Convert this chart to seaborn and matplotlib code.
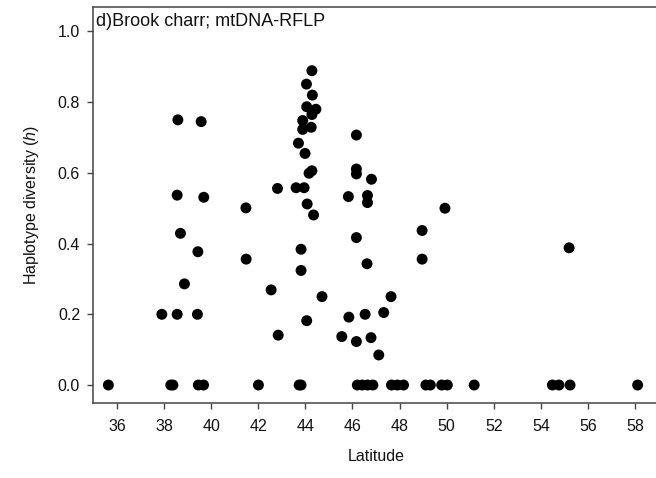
import numpy as np
import pandas as pd
import matplotlib
matplotlib.use("Agg")
import matplotlib.pyplot as plt
import seaborn as sns

# Data
latitude = [
    37.91, 38.56, 39.42, 38.59, 39.58, 38.56, 39.69, 38.70, 39.44, 38.87,
    41.48, 41.49, 42.82, 42.55, 42.85, 43.61, 43.95, 44.08, 44.35, 43.82,
    43.82, 44.71, 44.06, 44.28, 44.16, 43.71, 43.99, 44.28, 44.05, 44.30,
    44.06, 44.45, 44.28, 43.89, 43.89, 44.25,
    46.17, 46.17, 46.17, 46.81, 45.83, 46.64, 46.64, 46.17, 46.62, 47.64,
    45.85, 46.54, 47.33, 45.55, 46.17, 46.79, 47.12, 48.96, 48.96, 49.93,
    55.20,
    # zero-diversity populations
    35.64, 38.29, 38.38, 39.46, 39.68, 42.01, 43.74, 43.82, 46.21, 46.42,
    46.64, 46.87, 47.66, 47.91, 48.17, 49.12, 49.31, 49.79, 50.03, 51.17,
    54.49, 54.77, 55.24, 58.11,
]
diversity = [
    0.200, 0.200, 0.200, 0.750, 0.745, 0.537, 0.531, 0.429, 0.377, 0.286,
    0.501, 0.356, 0.556, 0.269, 0.141, 0.558, 0.558, 0.512, 0.481, 0.384,
    0.324, 0.250, 0.182, 0.606, 0.599, 0.684, 0.655, 0.889, 0.851, 0.820,
    0.787, 0.780, 0.765, 0.748, 0.723, 0.729,
    0.707, 0.611, 0.597, 0.582, 0.533, 0.536, 0.516, 0.417, 0.343, 0.250,
    0.192, 0.200, 0.205, 0.137, 0.123, 0.134, 0.085, 0.437, 0.356, 0.500,
    0.388,
    0.0, 0.0, 0.0, 0.0, 0.0, 0.0, 0.0, 0.0, 0.0, 0.0,
    0.0, 0.0, 0.0, 0.0, 0.0, 0.0, 0.0, 0.0, 0.0, 0.0,
    0.0, 0.0, 0.0, 0.0,
]
x_ticks = [36, 38, 40, 42, 44, 46, 48, 50, 52, 54, 56, 58]
y_ticks = [0.0, 0.2, 0.4, 0.6, 0.8, 1.0]
title_text = "d)Brook charr; mtDNA-RFLP"
x_label = "Latitude"
y_label = "Haplotype diversity ($\\mathit{h}$)"

df = pd.DataFrame({"Latitude": latitude, "Diversity": diversity})

sns.set_style("white")
plt.rcParams["font.family"] = ["Liberation Sans", "DejaVu Sans"]
plt.rcParams["mathtext.fontset"] = "custom"
plt.rcParams["mathtext.rm"] = "Liberation Sans"
plt.rcParams["mathtext.it"] = "Liberation Sans:italic"

W, H = 656, 478
fig = plt.figure(figsize=(W / 100, H / 100), dpi=100)
left, right, top, bottom = 93.3, 658.6, 6.7, 402.7
ax = fig.add_axes([left / W, 1 - bottom / H, (right - left) / W, (bottom - top) / H])

sns.scatterplot(data=df, x="Latitude", y="Diversity", ax=ax, color="black",
                s=62, edgecolor="none", linewidth=0, legend=False, zorder=3)

ax.set_xlim(35.0, 59.0)
ax.set_ylim(-0.05, 1.07)
ax.set_xticks(x_ticks)
ax.set_yticks(y_ticks)
ax.set_yticklabels([f"{v:.1f}" for v in y_ticks])
ax.tick_params(axis="both", which="both", direction="out", length=4.5, width=1,
               color="#444444", labelsize=11.5, labelcolor="#111111",
               bottom=True, left=True)
ax.tick_params(axis="x", pad=7)
ax.tick_params(axis="y", pad=5)
for sp in ax.spines.values():
    sp.set_visible(True)
    sp.set_color("#444444")
    sp.set_linewidth(1.1)

ax.set_xlabel(x_label, fontsize=11.5, labelpad=11, color="#111111")
ax.set_ylabel(y_label, fontsize=11.5, labelpad=12, color="#111111")
ax.text(0.004, 0.985, title_text, transform=ax.transAxes, ha="left", va="top",
        fontsize=13, color="#111111")

fig.savefig("out.png", dpi=100)
